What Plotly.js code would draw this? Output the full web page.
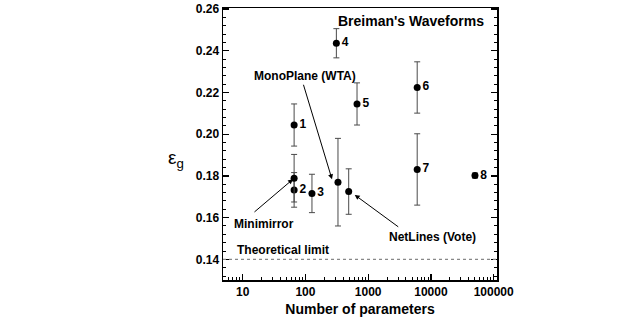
<!DOCTYPE html>
<html>
<head>
<meta charset="utf-8">
<script src="https://cdn.plot.ly/plotly-3.0.1.min.js"></script>
<style>html,body{margin:0;padding:0;background:#fff;}#chart{width:642px;height:327px;}</style>
</head>
<body>
<div id="chart"></div>
<script>
// Numbered reference methods
var labels = ['1', '2', '3', '4', '5', '6', '7', '8'];
var params = [66, 66, 127, 311, 664, 6040, 6040, 50350];
var eg     = [0.2044, 0.1733, 0.1716, 0.2436, 0.2145, 0.2224, 0.1831, 0.1802];
var egErr  = [0.0101, 0.0083, 0.0092, 0.0070, 0.0101, 0.0123, 0.0171, 0.0012];

// Highlighted methods
var methodNames  = ['Minimirror', 'MonoPlane (WTA)', 'NetLines (Vote)'];
var methodParams = [66, 330, 489];
var methodEg     = [0.1789, 0.1770, 0.1725];
var methodErr    = [0.0114, 0.0210, 0.0109];

var theoreticalLimit = 0.14;

var FONT = 'Liberation Sans, Arial, Helvetica, sans-serif';

var traces = [
  {
    x: params, y: eg, text: labels,
    type: 'scatter', mode: 'markers+text',
    textposition: 'middle right',
    textfont: {family: FONT, size: 12, color: '#000', weight: 'bold'},
    marker: {color: '#000', size: 7, symbol: 'circle', opacity: 1},
    error_y: {type: 'data', array: egErr, visible: true, color: '#4a4a4a', thickness: 1, width: 3},
    cliponaxis: false, hoverinfo: 'none'
  },
  {
    x: methodParams, y: methodEg,
    type: 'scatter', mode: 'markers',
    marker: {color: '#000', size: 7, symbol: 'circle', opacity: 1},
    error_y: {type: 'data', array: methodErr, visible: true, color: '#4a4a4a', thickness: 1, width: 3},
    hoverinfo: 'none'
  }
];

var annFont = {family: FONT, size: 12, color: '#000', weight: 'bold'};

var layout = {
  width: 642, height: 327,
  margin: {l: 223, r: 145, t: 8, b: 47},
  paper_bgcolor: '#fff', plot_bgcolor: '#fff',
  showlegend: false,
  font: {family: FONT, color: '#000'},
  xaxis: {
    type: 'log', range: [0.686, 5.053],
    tickvals: [10, 100, 1000, 10000, 100000],
    ticktext: ['10', '100', '1000', '10000', '100000'],
    ticks: 'inside', ticklen: 6, tickwidth: 1.2, tickcolor: '#000',
    minor: {ticks: 'inside', ticklen: 3, tickwidth: 1, tickcolor: '#000', dtick: 'D1', showgrid: false},
    showline: true, linecolor: '#000', linewidth: 1.5, mirror: true,
    showgrid: false, zeroline: false,
    tickfont: {family: FONT, size: 12, color: '#000', weight: 'bold'},
    title: {text: 'Number of parameters', font: {family: FONT, size: 14, color: '#000', weight: 'bold'}, standoff: 6}
  },
  yaxis: {
    range: [0.1301, 0.2605],
    dtick: 0.02, tick0: 0.14, tickformat: '.2f',
    ticks: 'inside', ticklen: 6, tickwidth: 1.2, tickcolor: '#000',
    minor: {ticks: 'inside', ticklen: 3, tickwidth: 1, tickcolor: '#000', dtick: 0.004, showgrid: false},
    showline: true, linecolor: '#000', linewidth: 1.5, mirror: 'ticks',
    showgrid: false, zeroline: false,
    tickfont: {family: FONT, size: 12, color: '#000', weight: 'bold'}
  },
  shapes: [
    {type: 'line', xref: 'paper', x0: 0, x1: 1, yref: 'y', y0: theoreticalLimit, y1: theoreticalLimit,
     line: {color: '#888', width: 1.2, dash: 'dot'}}
  ],
  annotations: [
    {xref: 'paper', yref: 'paper', x: -0.171, y: 0.445, xanchor: 'center', yanchor: 'middle',
     text: 'ε<sub>g</sub>', showarrow: false, font: {family: FONT, size: 19, color: '#000'}},
    {x: Math.log10(76500), y: 0.2545, xanchor: 'right', yanchor: 'middle', showarrow: false,
     text: "Breiman's Waveforms", font: {family: FONT, size: 14, color: '#000', weight: 'bold'}},
    {x: Math.log10(7.46), y: 0.1443, xanchor: 'left', yanchor: 'middle', showarrow: false,
     text: 'Theoretical limit', font: annFont},
    {x: Math.log10(97), y: 0.2281, xanchor: 'center', yanchor: 'middle', showarrow: false,
     text: methodNames[1], font: annFont},
    {x: Math.log10(21.6), y: 0.1568, xanchor: 'center', yanchor: 'middle', showarrow: false,
     text: methodNames[0], font: annFont},
    {x: Math.log10(10400), y: 0.1506, xanchor: 'center', yanchor: 'middle', showarrow: false,
     text: methodNames[2], font: annFont},
    // arrows
    {x: Math.log10(63.3), y: 0.17842, ax: -40, ay: 34, text: '', showarrow: true,
     arrowhead: 2, arrowsize: 1, arrowwidth: 1, arrowcolor: '#000', standoff: 0},
    {x: Math.log10(265), y: 0.1784, ax: -29, ay: -96, text: '', showarrow: true,
     arrowhead: 2, arrowsize: 1, arrowwidth: 1, arrowcolor: '#000', standoff: 0},
    {x: Math.log10(610), y: 0.1709, ax: 45, ay: 33, text: '', showarrow: true,
     arrowhead: 2, arrowsize: 1, arrowwidth: 1, arrowcolor: '#000', standoff: 0}
  ]
};

Plotly.newPlot('chart', traces, layout, {displayModeBar: false, staticPlot: true});
</script>
</body>
</html>
